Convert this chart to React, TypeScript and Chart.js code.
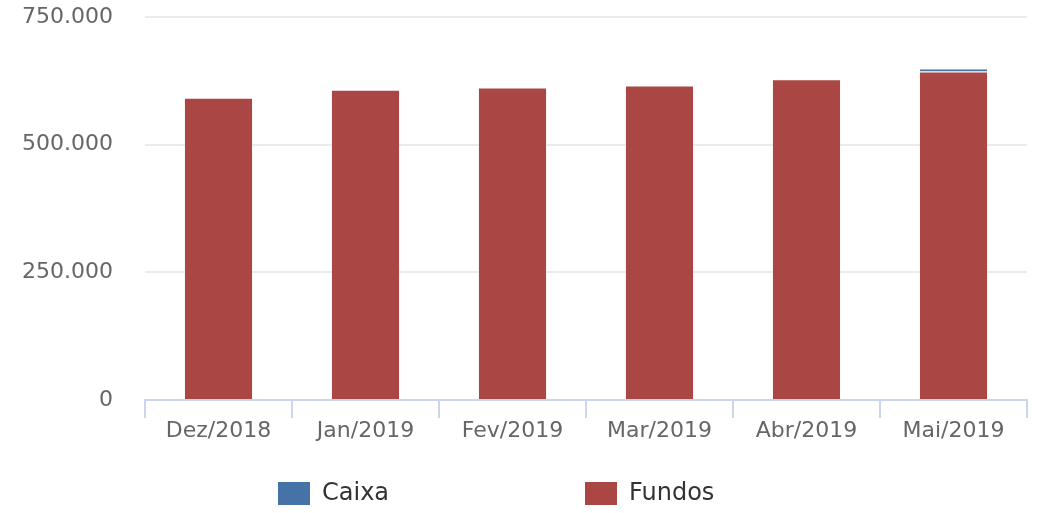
import React, { useEffect, useRef } from "react";
import { Chart, registerables } from "chart.js";

Chart.register(...registerables);

const categories = ["Dez/2018", "Jan/2019", "Fev/2019", "Mar/2019", "Abr/2019", "Mai/2019"];
const caixaValues = [0, 0, 0, 0, 0, 5500];
const fundosValues = [592000, 607500, 612000, 616000, 628000, 643500];
const seriesNames = ["Caixa", "Fundos"];
const seriesColors = ["#4572A7", "#AA4643"];
const yTicks = [0, 250000, 500000, 750000];

const fmt = (v: number) => String(v).replace(/\B(?=(\d{3})+(?!\d))/g, ".");

const legendPlugin = {
  id: "bottomLegend",
  afterDraw(chart: any) {
    const ctx = chart.ctx;
    ctx.save();
    ctx.font = '24px "DejaVu Sans"';
    ctx.textBaseline = "middle";
    ctx.textAlign = "left";
    const startX = 278;
    const gap = 307;
    seriesNames.forEach((name, i) => {
      const x = startX + i * gap;
      ctx.fillStyle = seriesColors[i];
      ctx.fillRect(x, 482, 32, 23);
      ctx.fillStyle = "#333333";
      ctx.fillText(name, x + 44, 494);
    });
    ctx.restore();
  },
};

export default function App() {
  const ref = useRef<HTMLCanvasElement | null>(null);
  useEffect(() => {
    if (!ref.current) return;
    const chart = new Chart(ref.current, {
      type: "bar",
      data: {
        labels: categories,
        datasets: [
          {
            label: seriesNames[1],
            data: fundosValues,
            backgroundColor: seriesColors[1],
            borderColor: "rgba(255,255,255,0.35)",
            borderWidth: 1,
            barPercentage: 0.47,
            categoryPercentage: 1,
          },
          {
            label: seriesNames[0],
            data: caixaValues,
            backgroundColor: seriesColors[0],
            borderColor: "rgba(255,255,255,0.35)",
            borderWidth: 1,
            barPercentage: 0.47,
            categoryPercentage: 1,
          },
        ],
      },
      options: {
        responsive: false,
        animation: false,
        layout: { padding: { top: 17, right: 12, left: 0, bottom: 0 } },
        plugins: {
          legend: { display: false },
          tooltip: { enabled: false },
        },
        scales: {
          x: {
            stacked: true,
            offset: true,
            afterFit: (s: any) => {
              s.height = 113;
              s.paddingLeft = 0;
              s.paddingRight = 0;
            },
            border: { display: true, color: "#ccd6eb", width: 2 },
            grid: {
              offset: true,
              drawOnChartArea: false,
              drawTicks: true,
              tickLength: 18,
              color: "#ccd6eb",
              lineWidth: 2,
            },
            ticks: {
              padding: 0,
              color: "#666666",
              font: { family: "DejaVu Sans", size: 22 },
              maxRotation: 0,
            },
          },
          y: {
            stacked: true,
            min: 0,
            max: 750000,
            afterFit: (s: any) => {
              s.width = 145;
              s.paddingTop = 0;
              s.paddingBottom = 0;
            },
            afterBuildTicks: (s: any) => {
              s.ticks = yTicks.map((v) => ({ value: v }));
            },
            border: { display: false },
            grid: { color: "#ebebeb", lineWidth: 2, drawTicks: false },
            ticks: {
              padding: 32,
              color: "#666666",
              font: { family: "DejaVu Sans", size: 22 },
              callback: (v: any) => fmt(Number(v)),
            },
          },
        },
      },
      plugins: [legendPlugin],
    });
    return () => chart.destroy();
  }, []);
  return (
    <div style={{ position: "absolute", left: 0, top: 0, width: 1039, height: 513, background: "#fff" }}>
      <canvas ref={ref} width={1039} height={513} />
    </div>
  );
}
